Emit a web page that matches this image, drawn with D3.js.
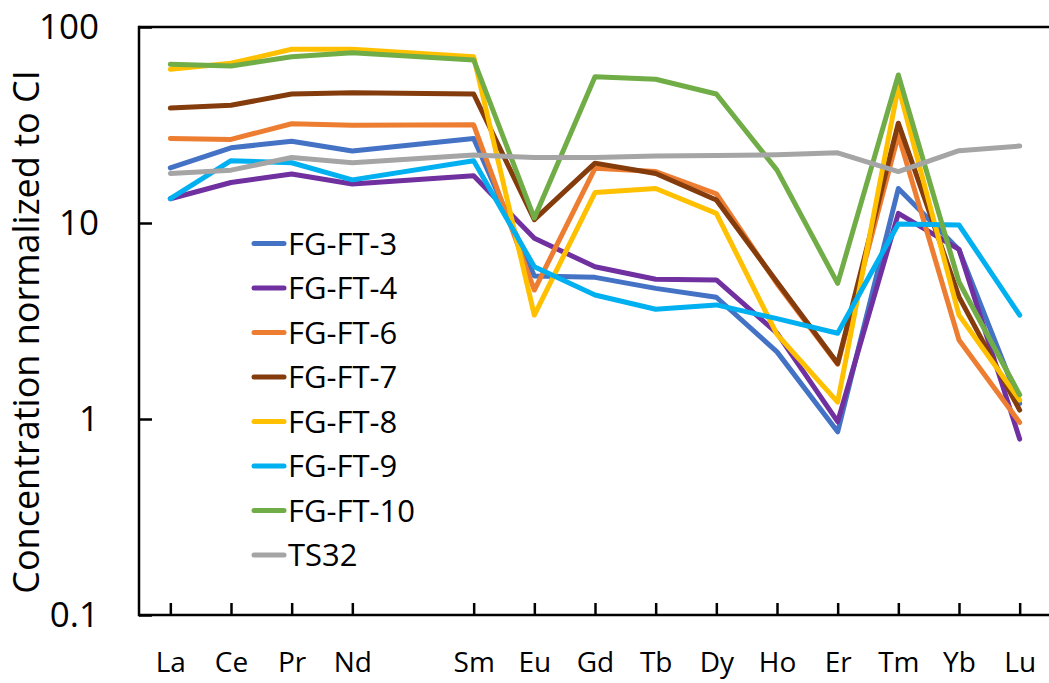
<!DOCTYPE html>
<html>
<head>
<meta charset="utf-8">
<script src="https://cdn.jsdelivr.net/npm/d3@7"></script>
<style>
  html, body { margin: 0; padding: 0; background: #fff; }
  svg { display: block; }
  text { font-family: "Open Sans", "Noto Sans", sans-serif; fill: #000; }
</style>
</head>
<body>
<svg id="chart" width="1049" height="683"></svg>
<script>
// REE elements in order; Pm is kept as an empty slot on the axis
const elements = ["La","Ce","Pr","Nd","Pm","Sm","Eu","Gd","Tb","Dy","Ho","Er","Tm","Yb","Lu"];
const yTickValues = [0.1, 1, 10, 100];

// Chondrite-normalised concentrations (null = not measured)
const fgft3  = [19.1, 24.2, 26.1, 23.3, null, 27.0, 5.37, 5.28, 4.64, 4.18, 2.2, 0.86, 15.0, 7.3, 1.2];
const fgft4  = [13.3, 16.1, 17.8, 15.8, null, 17.4, 8.35, 5.98, 5.16, 5.12, 2.74, 0.97, 11.2, 7.34, 0.79];
const fgft6  = [27.0, 26.7, 32.1, 31.5, null, 31.7, 4.55, 19.0, 18.3, 14.1, 4.9, 1.9, 28.1, 2.53, 0.96];
const fgft7  = [38.6, 39.9, 45.5, 46.2, null, 45.5, 10.4, 20.2, 17.9, 13.1, 5.0, 1.92, 32.3, 4.2, 1.11];
const fgft8  = [60.8, 65.3, 77.0, 77.0, null, 70.5, 3.39, 14.3, 15.0, 11.2, 2.7, 1.22, 49.6, 3.39, 1.25];
const fgft9  = [13.3, 20.8, 20.3, 16.6, null, 20.8, 5.98, 4.29, 3.63, 3.82, 3.25, 2.74, 9.89, 9.77, 3.39];
const fgft10 = [64.5, 63.2, 70.5, 73.9, null, 67.9, 10.6, 55.7, 54.1, 45.5, 18.6, 4.92, 56.9, 5.0, 1.33];
const ts32   = [17.9, 18.6, 21.6, 20.3, null, 22.2, 21.6, 21.6, 22.0, 22.1, 22.3, 22.8, 18.3, 23.4, 24.7];

const seriesNames  = ["FG-FT-3","FG-FT-4","FG-FT-6","FG-FT-7","FG-FT-8","FG-FT-9","FG-FT-10","TS32"];
const seriesValues = [fgft3, fgft4, fgft6, fgft7, fgft8, fgft9, fgft10, ts32];
const seriesColors = ["#4472C4","#7030A0","#ED7D31","#843C0C","#FFC000","#00B0F0","#70AD47","#A5A5A5"];

const svg = d3.select("#chart");
const plotLeft = 139, plotRight = 1050, plotTop = 27, plotBottom = 615;

svg.append("rect").attr("width", 1049).attr("height", 683).attr("fill", "#fff");

const x = d3.scalePoint().domain(elements).range([plotLeft + 1, plotRight]).padding(0.5);
const y = d3.scaleLog().domain([0.1, 100]).range([plotBottom, plotTop]);

// Data lines (drawn first-to-last so later series sit on top)
const line = d3.line()
  .x(d => x(d.el))
  .y(d => y(d.v));

const lines = svg.append("g");
seriesValues.forEach((vals, i) => {
  const pts = elements.map((el, j) => ({ el, v: vals[j] })).filter(d => d.v != null);
  lines.append("path")
    .datum(pts)
    .attr("d", line)
    .attr("fill", "none")
    .attr("stroke", seriesColors[i])
    .attr("stroke-width", 5)
    .attr("stroke-linejoin", "round")
    .attr("stroke-linecap", "round");
});

// Top frame line
svg.append("line")
  .attr("x1", plotLeft).attr("x2", 1049)
  .attr("y1", plotTop).attr("y2", plotTop)
  .attr("stroke", "#000").attr("stroke-width", 2.5);

// X axis with inward ticks, no tick at Pm
const xAxis = d3.axisBottom(x)
  .tickValues(elements.filter(e => e !== "Pm"))
  .tickSizeInner(-12)
  .tickSizeOuter(0)
  .tickPadding(37);
const gx = svg.append("g").attr("transform", `translate(0,${plotBottom})`).call(xAxis);
gx.select(".domain").remove();
gx.selectAll(".tick line").attr("stroke", "#000").attr("stroke-width", 2.5);
gx.selectAll(".tick text").attr("font-size", 28).style("font-family", '"Open Sans", sans-serif');
svg.append("line")
  .attr("x1", plotLeft).attr("x2", 1049)
  .attr("y1", plotBottom).attr("y2", plotBottom)
  .attr("stroke", "#000").attr("stroke-width", 2.5);

// Y axis (log) with inward ticks
const yAxis = d3.axisLeft(y)
  .tickValues(yTickValues)
  .tickFormat(d => String(d))
  .tickSizeInner(-13)
  .tickSizeOuter(0)
  .tickPadding(40);
const gy = svg.append("g").attr("transform", `translate(${plotLeft},0)`).call(yAxis);
gy.select(".domain").remove();
gy.selectAll(".tick line").attr("stroke", "#000").attr("stroke-width", 2.5);
gy.selectAll(".tick text").attr("font-size", 35).style("font-family", '"Open Sans", sans-serif');
svg.append("line")
  .attr("x1", plotLeft).attr("x2", plotLeft)
  .attr("y1", plotTop - 1.25).attr("y2", plotBottom + 1.25)
  .attr("stroke", "#000").attr("stroke-width", 2.5);

// Y axis title
svg.append("text")
  .attr("transform", "translate(39,332) rotate(-90)")
  .attr("text-anchor", "middle")
  .attr("font-size", 36)
  .text("Concentration normalized to CI");

// Legend
const legend = svg.append("g");
seriesNames.forEach((name, i) => {
  const cy = 243.5 + i * 44.5;
  legend.append("line")
    .attr("x1", 254).attr("x2", 284)
    .attr("y1", cy).attr("y2", cy)
    .attr("stroke", seriesColors[i])
    .attr("stroke-width", 5)
    .attr("stroke-linecap", "round");
  legend.append("text")
    .attr("x", 288).attr("y", cy)
    .attr("dy", "0.36em")
    .attr("font-size", 31)
    .text(name);
});
</script>
</body>
</html>
